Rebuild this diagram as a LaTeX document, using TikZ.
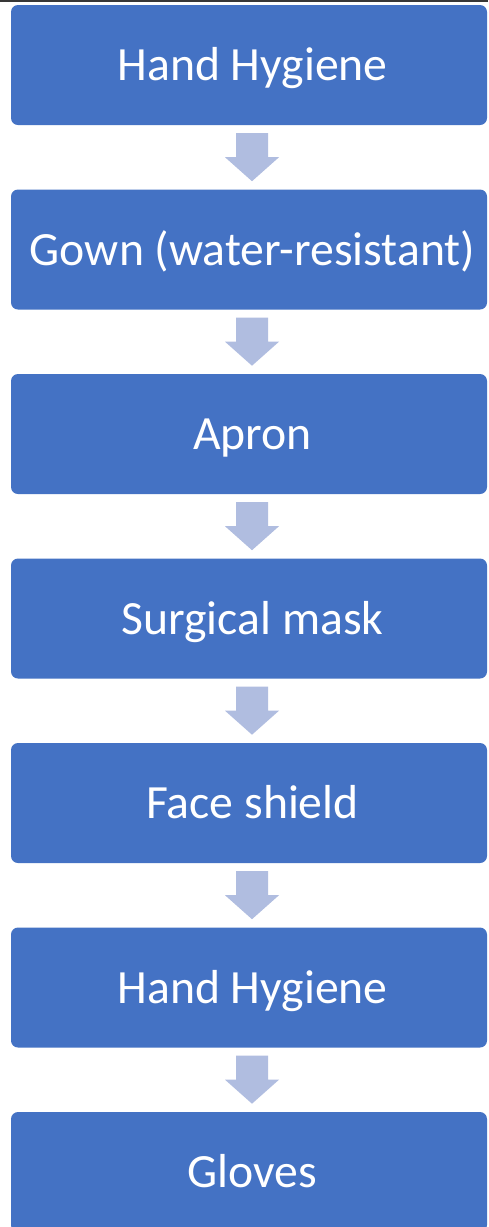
\documentclass[tikz,border=0pt]{standalone}
\usepackage{fontspec}
\setmainfont{Carlito}
\usetikzlibrary{calc}
\definecolor{boxblue}{HTML}{4472C4}
\definecolor{arrowblue}{HTML}{B0BDE0}
\begin{document}
\begin{tikzpicture}[
    x=1pt,y=-1pt,
    stepbox/.style={fill=boxblue,text=white,rounded corners=7pt,inner sep=0pt,
      minimum width=476pt,minimum height=120pt,text height=31pt,text depth=0pt,
      font=\fontsize{47.7}{58}\selectfont}
    ]
    \useasboundingbox (0,0) rectangle (488,1227);
    \fill[white] (0,0) rectangle (488,1227);
    \fill[black!78] (0,0) rectangle (488,2);
    \foreach \txt [count=\i from 0] in {Hand Hygiene,{Gown (water-resistant)},Apron,Surgical mask,Face shield,Hand Hygiene,Gloves}
      \node[stepbox] (b\i) at (249,65+184.5*\i) {\hspace*{7pt}\txt};
    % block arrows between the steps
    \foreach \i in {0,...,5}
      \fill[arrowblue] ($(b\i.south)+(-13,8)$) -- ++(32,0) -- ++(0,24) -- ++(11,0)
        -- ++(-27,24) -- ++(-27,-24) -- ++(11,0) -- cycle;
  \end{tikzpicture}
\end{document}
